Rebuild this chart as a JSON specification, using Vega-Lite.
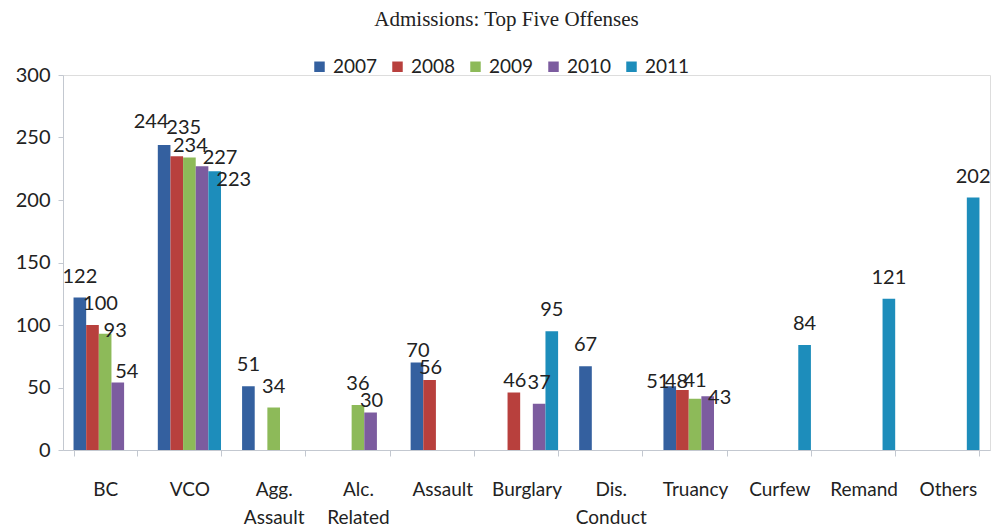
{
  "$schema": "https://vega.github.io/schema/vega-lite/v6.json",
  "width": 927,
  "height": 375,
  "autosize": {"type": "none"},
  "padding": {"left": 63, "top": 75, "right": 15, "bottom": 79},
  "background": "white",
  "title": {
    "text": "Admissions: Top Five Offenses",
    "font": "Liberation Serif",
    "fontSize": 21,
    "fontWeight": "normal",
    "color": "#222222",
    "anchor": "middle",
    "dx": -20,
    "offset": 27
  },
  "data": {
    "values": [
      {"offense": "BC", "year": "2007", "count": 122},
      {"offense": "BC", "year": "2008", "count": 100},
      {"offense": "BC", "year": "2009", "count": 93},
      {"offense": "BC", "year": "2010", "count": 54},
      {"offense": "VCO", "year": "2007", "count": 244},
      {"offense": "VCO", "year": "2008", "count": 235},
      {"offense": "VCO", "year": "2009", "count": 234},
      {"offense": "VCO", "year": "2010", "count": 227},
      {"offense": "VCO", "year": "2011", "count": 223},
      {"offense": "Agg. Assault", "year": "2007", "count": 51},
      {"offense": "Agg. Assault", "year": "2009", "count": 34},
      {"offense": "Alc. Related", "year": "2009", "count": 36},
      {"offense": "Alc. Related", "year": "2010", "count": 30},
      {"offense": "Assault", "year": "2007", "count": 70},
      {"offense": "Assault", "year": "2008", "count": 56},
      {"offense": "Burglary", "year": "2008", "count": 46},
      {"offense": "Burglary", "year": "2010", "count": 37},
      {"offense": "Burglary", "year": "2011", "count": 95},
      {"offense": "Dis. Conduct", "year": "2007", "count": 67},
      {"offense": "Truancy", "year": "2007", "count": 51},
      {"offense": "Truancy", "year": "2008", "count": 48},
      {"offense": "Truancy", "year": "2009", "count": 41},
      {"offense": "Truancy", "year": "2010", "count": 43},
      {"offense": "Curfew", "year": "2011", "count": 84},
      {"offense": "Remand", "year": "2011", "count": 121},
      {"offense": "Others", "year": "2011", "count": 202}
    ]
  },
  "encoding": {
    "x": {
      "field": "offense",
      "type": "nominal",
      "sort": ["BC", "VCO", "Agg. Assault", "Alc. Related", "Assault", "Burglary", "Dis. Conduct", "Truancy", "Curfew", "Remand", "Others"],
      "scale": {"paddingInner": 0.25, "paddingOuter": 0.125},
      "axis": {
        "title": null,
        "labelAngle": 0,
        "labelExpr": "split(datum.label, ' ')",
        "labelFont": "Lato",
        "labelFontSize": 19,
        "labelColor": "#222222",
        "labelPadding": 24,
        "labelLineHeight": 28,
        "tickBand": "extent",
        "tickSize": 6,
        "tickColor": "#c3c8d0",
        "domainColor": "#c3c8d0",
        "grid": false
      }
    },
    "xOffset": {
      "field": "year",
      "type": "nominal",
      "scale": {"domain": ["2007", "2008", "2009", "2010", "2011"], "paddingInner": 0, "paddingOuter": 0}
    },
    "y": {
      "field": "count",
      "type": "quantitative",
      "scale": {"domain": [0, 300], "nice": false},
      "axis": {
        "title": null,
        "values": [0, 50, 100, 150, 200, 250, 300],
        "grid": false,
        "labelFont": "Lato",
        "labelFontSize": 20,
        "labelColor": "#222222",
        "labelPadding": 8,
        "tickSize": 5,
        "tickColor": "#c3c8d0",
        "domainColor": "#c3c8d0"
      }
    },
    "text": {"field": "count", "type": "quantitative"}
  },
  "layer": [
    {
      "mark": {"type": "bar"},
      "encoding": {
        "color": {
          "field": "year",
          "type": "nominal",
          "scale": {
            "domain": ["2007", "2008", "2009", "2010", "2011"],
            "range": ["#34609f", "#b8403d", "#8dba59", "#7c5c9f", "#1d8dbb"]
          },
          "legend": {
            "title": null,
            "orient": "none",
            "direction": "horizontal",
            "legendX": 247,
            "legendY": -18,
            "symbolType": "square",
            "symbolSize": 110,
            "symbolStrokeWidth": 0,
            "labelFont": "Lato",
            "labelFontSize": 19,
            "labelColor": "#222222",
            "columnPadding": 10,
            "labelOffset": 4
          }
        },
        "text": null
      }
    },
    {
      "transform": [{"filter": "indexof(['BC|2008','BC|2009','BC|2010','Alc. Related|2010','Assault|2007','Assault|2008','Burglary|2008','VCO|2007','VCO|2008','VCO|2009','VCO|2010','VCO|2011','Truancy|2007','Truancy|2008','Truancy|2009','Truancy|2010'], datum.offense + '|' + datum.year) < 0"}],
      "mark": {"type": "text", "baseline": "alphabetic", "dx": 0, "dy": -15, "font": "Lato", "fontSize": 20, "color": "#222222"}
    },
    {
      "transform": [{"filter": "datum.offense == 'BC' && datum.year == '2008'"}],
      "mark": {"type": "text", "baseline": "alphabetic", "dx": 8, "dy": -15, "font": "Lato", "fontSize": 20, "color": "#222222"}
    },
    {
      "transform": [{"filter": "datum.offense == 'BC' && datum.year == '2009'"}],
      "mark": {"type": "text", "baseline": "alphabetic", "dx": 10, "dy": 3, "font": "Lato", "fontSize": 20, "color": "#222222"}
    },
    {
      "transform": [{"filter": "datum.offense == 'BC' && datum.year == '2010'"}],
      "mark": {"type": "text", "baseline": "alphabetic", "dx": 9, "dy": -5, "font": "Lato", "fontSize": 20, "color": "#222222"}
    },
    {
      "transform": [{"filter": "indexof(['Alc. Related|2010','Assault|2007','Assault|2008','Burglary|2008','VCO|2009'], datum.offense + '|' + datum.year) >= 0"}],
      "mark": {"type": "text", "baseline": "alphabetic", "dx": 1, "dy": -6, "font": "Lato", "fontSize": 20, "color": "#222222"}
    },
    {
      "transform": [{"filter": "datum.offense == 'VCO' && datum.year == '2007'"}],
      "mark": {"type": "text", "baseline": "alphabetic", "dx": -13, "dy": -17, "font": "Lato", "fontSize": 20, "color": "#222222"}
    },
    {
      "transform": [{"filter": "datum.offense == 'VCO' && datum.year == '2008'"}],
      "mark": {"type": "text", "baseline": "alphabetic", "dx": 7, "dy": -22, "font": "Lato", "fontSize": 20, "color": "#222222"}
    },
    {
      "transform": [{"filter": "datum.offense == 'VCO' && datum.year == '2010'"}],
      "mark": {"type": "text", "baseline": "alphabetic", "dx": 18, "dy": -2, "font": "Lato", "fontSize": 20, "color": "#222222"}
    },
    {
      "transform": [{"filter": "datum.offense == 'VCO' && datum.year == '2011'"}],
      "mark": {"type": "text", "baseline": "alphabetic", "dx": 19, "dy": 15, "font": "Lato", "fontSize": 20, "color": "#222222"}
    },
    {
      "transform": [{"filter": "datum.offense == 'Truancy' && datum.year == '2007'"}],
      "mark": {"type": "text", "baseline": "alphabetic", "dx": -12, "dy": 2, "font": "Lato", "fontSize": 20, "color": "#222222"}
    },
    {
      "transform": [{"filter": "datum.offense == 'Truancy' && datum.year == '2008'"}],
      "mark": {"type": "text", "baseline": "alphabetic", "dx": -6, "dy": -2, "font": "Lato", "fontSize": 20, "color": "#222222"}
    },
    {
      "transform": [{"filter": "datum.offense == 'Truancy' && datum.year == '2009'"}],
      "mark": {"type": "text", "baseline": "alphabetic", "dx": 0, "dy": -12, "font": "Lato", "fontSize": 20, "color": "#222222"}
    },
    {
      "transform": [{"filter": "datum.offense == 'Truancy' && datum.year == '2010'"}],
      "mark": {"type": "text", "baseline": "alphabetic", "dx": 12, "dy": 8, "font": "Lato", "fontSize": 20, "color": "#222222"}
    }
  ]
}
